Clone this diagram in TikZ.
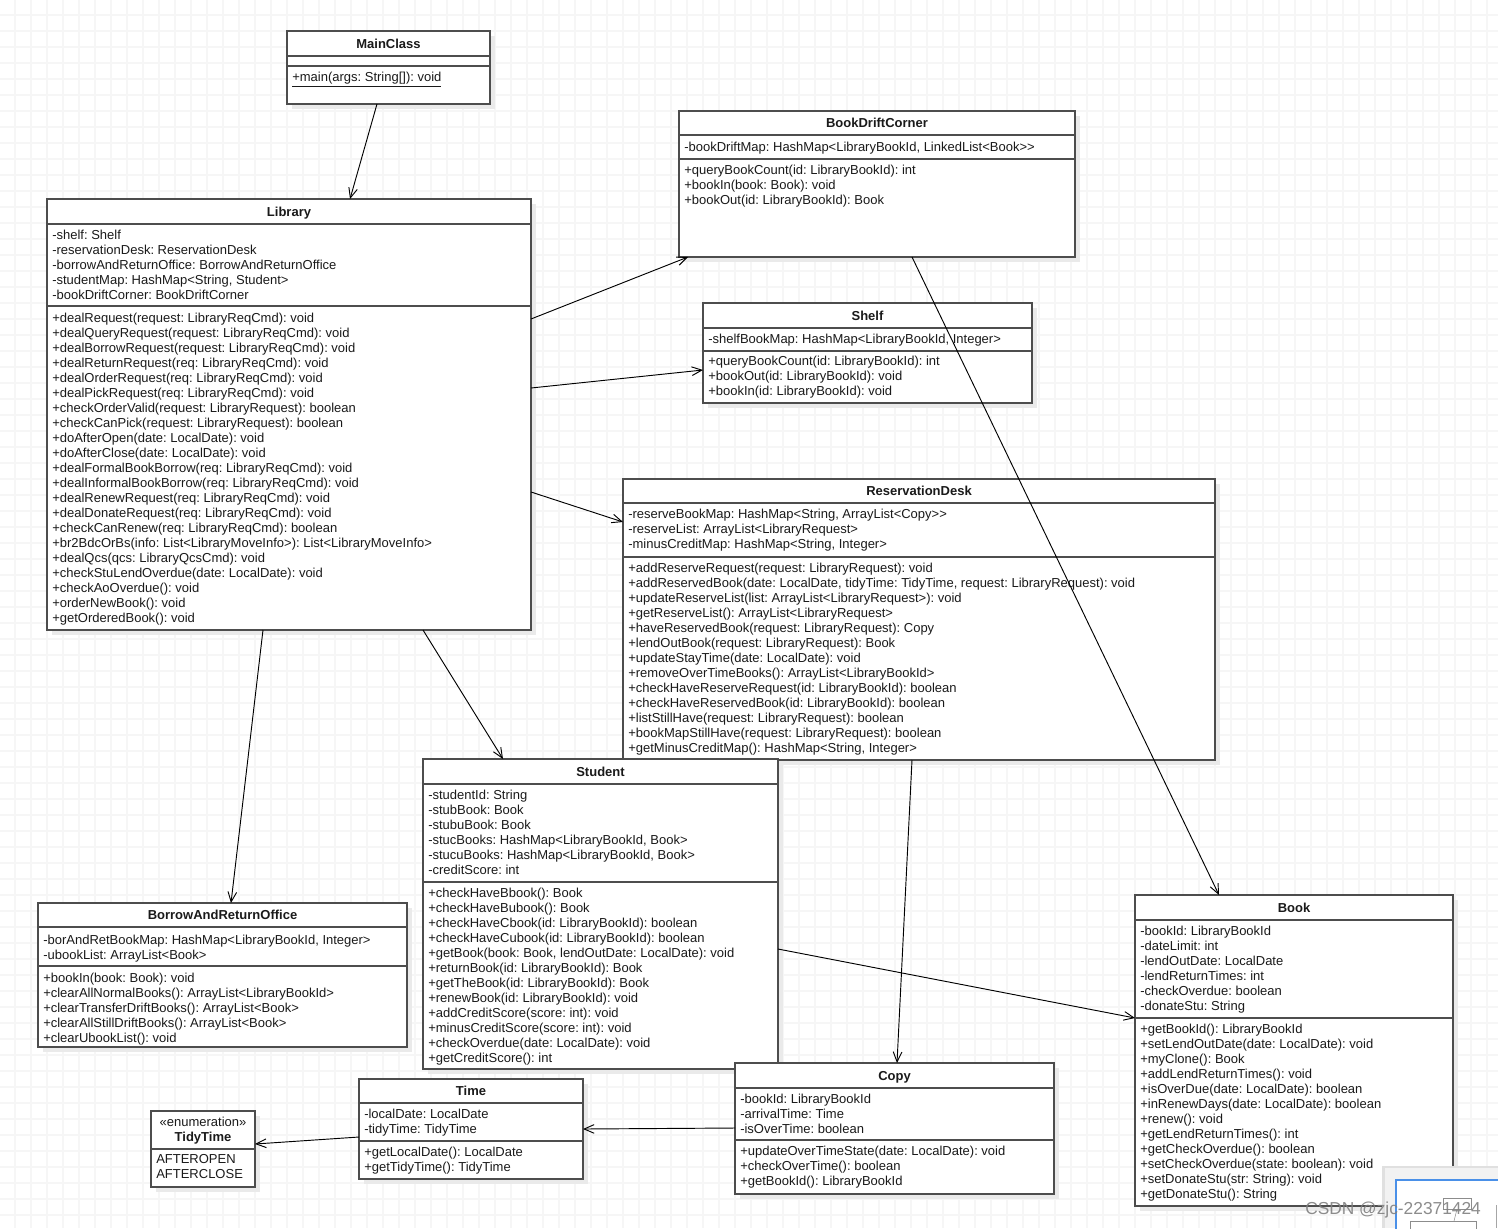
\documentclass[tikz,border=0pt]{standalone}
\usepackage{fontspec}
\setmainfont{Liberation Sans}
\frenchspacing
\usetikzlibrary{calc,arrows.meta}
\definecolor{boxline}{HTML}{4D4D4D}
\definecolor{gridc}{HTML}{F6F6F6}
\definecolor{shadowc}{HTML}{EAEAEA}
\definecolor{txt}{HTML}{1A1A1A}
\definecolor{mapblue}{HTML}{4A90E8}
\tikzset{
  box/.style={draw=boxline, line width=1pt, fill=white, inner sep=0pt, outer sep=0pt},
  sepl/.style={draw=boxline, line width=1pt},
  mem/.style={font=\fontsize{9.75pt}{11.25pt}\selectfont, text=txt, inner sep=0pt, anchor=base west},
  ttl/.style={font=\bfseries\fontsize{9.75pt}{11.25pt}\selectfont, text=txt, inner sep=0pt, anchor=base},
  assoc/.style={draw=black, line width=0.7pt, -{Straight Barb[length=7.5pt,width=6.5pt]}},
  gridline/.style={draw=gridc, line width=0.9pt},
}
% name, left, top, right, bottom
\newcommand\umlbox[5]{%
  \fill[shadowc] ({#2+5},{#3+5}) rectangle ({#4+5},{#5+5});
  \node[box, anchor=north west, minimum width={(#4-#2)*0.75pt}, minimum height={(#5-#3)*0.75pt}] (#1) at (#2,#3) {};
}
% left, right, y
\newcommand\hsep[3]{\draw[sepl] (#1,#3) -- (#2,#3);}
% name, left, right, center y, text
\newcommand\umltitle[5]{\node[ttl] (#1) at ({(#2+#3)/2},{#4+4.8}) {#5};}
% name prefix, x, first center y, list
\newcommand\umllines[4]{%
  \foreach \itm [count=\i] in {#4} {\node[mem] (#1-\i) at ({#2},{#3+4.8+15*(\i-1)}) {\itm};}
}
\begin{document}
\begin{tikzpicture}[x=0.75pt,y=-0.75pt]
\useasboundingbox (0,0) rectangle (1498,1228);
\fill[white] (0,0) rectangle (1498,1228);
% background grid
\foreach \gx in {15,31,...,1497} {\draw[gridline] (\gx,0) -- (\gx,1228);}
\foreach \gy in {15,31,...,1227} {\draw[gridline] (0,\gy) -- (1498,\gy);}

% ---------------- MainClass
\umlbox{main}{287}{31}{490}{104}
\umltitle{main-title}{287}{490}{43.5}{MainClass}
\hsep{287}{490}{56}
\hsep{287}{490}{66}
\node[mem] (main-1) at (292,81.5) {\underline{+main(args: String[]): void}};

% ---------------- Library
\umlbox{lib}{47}{199}{531}{630}
\umltitle{lib-title}{47}{531}{211.5}{Library}
\hsep{47}{531}{224}
\umllines{lib-a}{52}{234.3}{
 {-shelf: Shelf},
 {-reservationDesk: ReservationDesk},
 {-borrowAndReturnOffice: BorrowAndReturnOffice},
 {-studentMap: HashMap<String, Student>},
 {-bookDriftCorner: BookDriftCorner}}
\hsep{47}{531}{306}
\umllines{lib-m}{52}{317.3}{
 {+dealRequest(request: LibraryReqCmd): void},
 {+dealQueryRequest(request: LibraryReqCmd): void},
 {+dealBorrowRequest(request: LibraryReqCmd): void},
 {+dealReturnRequest(req: LibraryReqCmd): void},
 {+dealOrderRequest(req: LibraryReqCmd): void},
 {+dealPickRequest(req: LibraryReqCmd): void},
 {+checkOrderValid(request: LibraryRequest): boolean},
 {+checkCanPick(request: LibraryRequest): boolean},
 {+doAfterOpen(date: LocalDate): void},
 {+doAfterClose(date: LocalDate): void},
 {+dealFormalBookBorrow(req: LibraryReqCmd): void},
 {+dealInformalBookBorrow(req: LibraryReqCmd): void},
 {+dealRenewRequest(req: LibraryReqCmd): void},
 {+dealDonateRequest(req: LibraryReqCmd): void},
 {+checkCanRenew(req: LibraryReqCmd): boolean},
 {+br2BdcOrBs(info: List<LibraryMoveInfo>): List<LibraryMoveInfo>},
 {+dealQcs(qcs: LibraryQcsCmd): void},
 {+checkStuLendOverdue(date: LocalDate): void},
 {+checkAoOverdue(): void},
 {+orderNewBook(): void},
 {+getOrderedBook(): void}}

% ---------------- BookDriftCorner
\umlbox{bdc}{679}{111}{1075}{257}
\umltitle{bdc-title}{679}{1075}{123}{BookDriftCorner}
\hsep{679}{1075}{135}
\umllines{bdc-a}{684}{146.7}{{-bookDriftMap: HashMap<LibraryBookId, LinkedList<Book>{}>}}
\hsep{679}{1075}{159}
\umllines{bdc-m}{684}{169.7}{
 {+queryBookCount(id: LibraryBookId): int},
 {+bookIn(book: Book): void},
 {+bookOut(id: LibraryBookId): Book}}

% ---------------- Shelf
\umlbox{shelf}{703}{303}{1032}{403}
\umltitle{shelf-title}{703}{1032}{315.5}{Shelf}
\hsep{703}{1032}{328}
\umllines{shelf-a}{708}{338.7}{{-shelfBookMap: HashMap<LibraryBookId, Integer>}}
\hsep{703}{1032}{351}
\umllines{shelf-m}{708}{361}{
 {+queryBookCount(id: LibraryBookId): int},
 {+bookOut(id: LibraryBookId): void},
 {+bookIn(id: LibraryBookId): void}}

% ---------------- ReservationDesk
\umlbox{res}{623}{479}{1215}{760}
\umltitle{res-title}{623}{1215}{491}{ReservationDesk}
\hsep{623}{1215}{503}
\umllines{res-a}{628}{514}{
 {-reserveBookMap: HashMap<String, ArrayList<Copy>{}>},
 {-reserveList: ArrayList<LibraryRequest>},
 {-minusCreditMap: HashMap<String, Integer>}}
\hsep{623}{1215}{557}
\umllines{res-m}{628}{567.7}{
 {+addReserveRequest(request: LibraryRequest): void},
 {+addReservedBook(date: LocalDate, tidyTime: TidyTime, request: LibraryRequest): void},
 {+updateReserveList(list: ArrayList<LibraryRequest>): void},
 {+getReserveList(): ArrayList<LibraryRequest>},
 {+haveReservedBook(request: LibraryRequest): Copy},
 {+lendOutBook(request: LibraryRequest): Book},
 {+updateStayTime(date: LocalDate): void},
 {+removeOverTimeBooks(): ArrayList<LibraryBookId>},
 {+checkHaveReserveRequest(id: LibraryBookId): boolean},
 {+checkHaveReservedBook(id: LibraryBookId): boolean},
 {+listStillHave(request: LibraryRequest): boolean},
 {+bookMapStillHave(request: LibraryRequest): boolean},
 {+getMinusCreditMap(): HashMap<String, Integer>}}

% ---------------- Student
\umlbox{stu}{423}{759}{778}{1069}
\umltitle{stu-title}{423}{778}{771.5}{Student}
\hsep{423}{778}{784}
\umllines{stu-a}{428}{794.3}{
 {-studentId: String},
 {-stubBook: Book},
 {-stubuBook: Book},
 {-stucBooks: HashMap<LibraryBookId, Book>},
 {-stucuBooks: HashMap<LibraryBookId, Book>},
 {-creditScore: int}}
\hsep{423}{778}{882}
\umllines{stu-m}{428}{892.7}{
 {+checkHaveBbook(): Book},
 {+checkHaveBubook(): Book},
 {+checkHaveCbook(id: LibraryBookId): boolean},
 {+checkHaveCubook(id: LibraryBookId): boolean},
 {+getBook(book: Book, lendOutDate: LocalDate): void},
 {+returnBook(id: LibraryBookId): Book},
 {+getTheBook(id: LibraryBookId): Book},
 {+renewBook(id: LibraryBookId): void},
 {+addCreditScore(score: int): void},
 {+minusCreditScore(score: int): void},
 {+checkOverdue(date: LocalDate): void},
 {+getCreditScore(): int}}

% ---------------- BorrowAndReturnOffice
\umlbox{bar}{38}{903}{407}{1047}
\umltitle{bar-title}{38}{407}{915}{BorrowAndReturnOffice}
\hsep{38}{407}{927}
\umllines{bar-a}{43}{939.3}{
 {-borAndRetBookMap: HashMap<LibraryBookId, Integer>},
 {-ubookList: ArrayList<Book>}}
\hsep{38}{407}{966}
\umllines{bar-m}{43}{977.3}{
 {+bookIn(book: Book): void},
 {+clearAllNormalBooks(): ArrayList<LibraryBookId>},
 {+clearTransferDriftBooks(): ArrayList<Book>},
 {+clearAllStillDriftBooks(): ArrayList<Book>},
 {+clearUbookList(): void}}

% ---------------- Copy
\umlbox{copy}{735}{1063}{1054}{1194}
\umltitle{copy-title}{735}{1054}{1075.5}{Copy}
\hsep{735}{1054}{1088}
\umllines{copy-a}{740}{1098.7}{
 {-bookId: LibraryBookId},
 {-arrivalTime: Time},
 {-isOverTime: boolean}}
\hsep{735}{1054}{1140}
\umllines{copy-m}{740}{1150.7}{
 {+updateOverTimeState(date: LocalDate): void},
 {+checkOverTime(): boolean},
 {+getBookId(): LibraryBookId}}

% ---------------- Time
\umlbox{time}{359}{1079}{583}{1179}
\umltitle{time-title}{359}{583}{1091}{Time}
\hsep{359}{583}{1103}
\umllines{time-a}{364}{1114}{
 {-localDate: LocalDate},
 {-tidyTime: TidyTime}}
\hsep{359}{583}{1141}
\umllines{time-m}{364}{1152}{
 {+getLocalDate(): LocalDate},
 {+getTidyTime(): TidyTime}}

% ---------------- TidyTime
\umlbox{tidy}{151}{1111}{255}{1187}
\node[mem, anchor=base] (tidy-st) at (203,1126.5) {«enumeration»};
\umltitle{tidy-title}{151}{255}{1136.7}{TidyTime}
\hsep{151}{255}{1149}
\umllines{tidy-v}{156}{1159}{AFTEROPEN, AFTERCLOSE}

% ---------------- Book
\umlbox{book}{1135}{895}{1453}{1206}
\umltitle{book-title}{1135}{1453}{907.5}{Book}
\hsep{1135}{1453}{920}
\umllines{book-a}{1140}{930.7}{
 {-bookId: LibraryBookId},
 {-dateLimit: int},
 {-lendOutDate: LocalDate},
 {-lendReturnTimes: int},
 {-checkOverdue: boolean},
 {-donateStu: String}}
\hsep{1135}{1453}{1018}
\umllines{book-m}{1140}{1028.3}{
 {+getBookId(): LibraryBookId},
 {+setLendOutDate(date: LocalDate): void},
 {+myClone(): Book},
 {+addLendReturnTimes(): void},
 {+isOverDue(date: LocalDate): boolean},
 {+inRenewDays(date: LocalDate): boolean},
 {+renew(): void},
 {+getLendReturnTimes(): int},
 {+getCheckOverdue(): boolean},
 {+setCheckOverdue(state: boolean): void},
 {+setDonateStu(str: String): void},
 {+getDonateStu(): String}}

% ---------------- connectors
\draw[assoc] ($(main.south west)+(90,0)$) -- ($(lib.north west)+(303,0)$);
\draw[assoc] ($(lib.north east)+(0,120)$) -- ($(bdc.south west)+(9,0)$);
\draw[assoc] ($(lib.north east)+(0,189)$) -- ($(shelf.north west)+(0,67)$);
\draw[assoc] ($(lib.north east)+(0,293)$) -- ($(res.north west)+(0,43)$);
\draw[assoc] ($(lib.south west)+(216,0)$) -- ($(bar.north west)+(193,0)$);
\draw[assoc] ($(lib.south west)+(376,0)$) -- ($(stu.north west)+(80,0)$);
\draw[assoc] ($(bdc.south west)+(233,0)$) -- ($(book.north west)+(84,0)$);
\draw[assoc] ($(res.south west)+(289,0)$) -- ($(copy.north west)+(162,0)$);
\draw[assoc] ($(stu.north east)+(0,190)$) -- ($(book.north west)+(0,123)$);
\draw[assoc] ($(copy.north west)+(0,65)$) -- ($(time.north east)+(0,50)$);
\draw[assoc] ($(time.north west)+(0,58)$) -- ($(tidy.north east)+(0,33)$);

% ---------------- minimap panel and watermark
\fill[black!12] (1382,1166) rectangle (1498,1228);
\fill[black!5] (1385,1168) rectangle (1498,1228);
\fill[white] (1396,1180) rectangle (1498,1228);
\draw[mapblue, line width=1.5pt] (1396,1230) -- (1396,1180) -- (1500,1180);
\draw[black!45, line width=0.4pt] (1443,1198) rectangle (1471,1209);
\draw[black!45, line width=0.4pt] (1457,1209) -- (1454,1221);
\draw[black!45, line width=0.4pt] (1410,1232) -- (1410,1221) -- (1476,1221) -- (1476,1232);
\draw[black!35, line width=0.4pt] (1496,1205) -- (1496,1228);
\node[font=\fontsize{13pt}{13pt}\selectfont, text=black!50, opacity=0.9, inner sep=0pt, anchor=base west] (wm) at (1305,1214) {CSDN @zjc-22371424};
\end{tikzpicture}
\end{document}
